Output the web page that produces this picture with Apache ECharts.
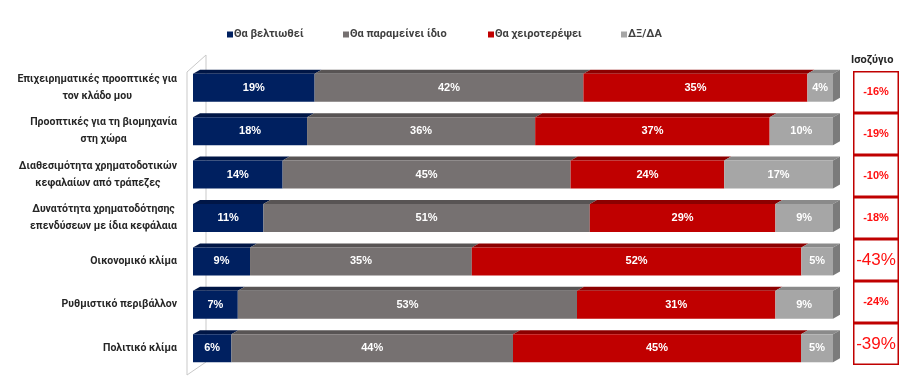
<!DOCTYPE html>
<html>
<head>
<meta charset="utf-8">
<script src="https://cdn.jsdelivr.net/npm/echarts@6/dist/echarts.min.js"></script>
<style>html,body{margin:0;padding:0;background:#fff}#c{width:902px;height:390px}</style>
</head>
<body>
<div id="c"></div>
<script>
const categories = [
  'Επιχειρηματικές προοπτικές για\nτον κλάδο μου',
  'Προοπτικές για τη βιομηχανία\nστη χώρα',
  'Διαθεσιμότητα χρηματοδοτικών\nκεφαλαίων από τράπεζες',
  'Δυνατότητα χρηματοδότησης\nεπενδύσεων με ίδια κεφάλαια',
  'Οικονομικό κλίμα',
  'Ρυθμιστικό περιβάλλον',
  'Πολιτικό κλίμα'
];
const seriesNames = ['Θα βελτιωθεί', 'Θα παραμείνει ίδιο', 'Θα χειροτερέψει', 'ΔΞ/ΔΑ'];
const improve = [19, 18, 14, 11, 9, 7, 6];
const same    = [42, 36, 45, 51, 35, 53, 44];
const worse   = [35, 37, 24, 29, 52, 31, 45];
const dkna    = [4, 10, 17, 9, 5, 9, 5];
const balance = [-16, -19, -10, -18, -43, -24, -39];
const balanceTitle = 'Ισοζύγιο';

const frontColors = ['#002060', '#767171', '#c00000', '#a6a6a6'];
const topColors   = ['#001646', '#585454', '#8c0000', '#8a8a8a'];
const sideColor = '#7b7b7b';
const values = [improve, same, worse, dkna];
const BAR_W = 28, DX = 7, DY = 4;
const FONT = 'Roboto, "Liberation Sans", Arial, sans-serif';
const FONT2 = '"Liberation Sans", Arial, sans-serif';

// 100% stacked: normalise each row to its total (labels keep the raw values)
const totals = categories.map((c, i) => values.reduce((a, arr) => a + arr[i], 0));
const normed = values.map(arr => arr.map((v, i) => v * 100 / totals[i]));

// depth data: [start, end, categoryIndex, segmentIndex]
const depthData = [];
categories.forEach((c, i) => {
  let acc = 0;
  values.forEach((arr, s) => {
    const w = arr[i] * 100 / totals[i];
    depthData.push([acc, acc + w, i, s]);
    acc += w;
  });
});

const barSeries = values.map((arr, s) => ({
  name: seriesNames[s],
  type: 'bar',
  stack: 'all',
  barWidth: BAR_W,
  xAxisIndex: 0, yAxisIndex: 0,
  data: normed[s],
  itemStyle: { color: frontColors[s] },
  label: {
    show: true, position: 'inside', color: '#ffffff',
    fontFamily: FONT2, fontWeight: 'bold', fontSize: 11,
    formatter: p => values[s][p.dataIndex] + '%'
  },
  z: 3
}));

const depthSeries = {
  type: 'custom',
  xAxisIndex: 0, yAxisIndex: 0,
  data: depthData,
  encode: { x: [0, 1], y: 2 },
  z: 2,
  clip: false,
  silent: true,
  renderItem: function (params, api) {
    const start = api.value(0), end = api.value(1), cat = api.value(2), seg = api.value(3);
    const p0 = api.coord([start, cat]);
    const p1 = api.coord([end, cat]);
    const yt = p0[1] - BAR_W / 2, yb = p0[1] + BAR_W / 2;
    const children = [{
      type: 'polygon',
      shape: { points: [[p0[0], yt], [p1[0], yt], [p1[0] + DX, yt - DY], [p0[0] + DX, yt - DY]] },
      style: { fill: topColors[seg] }
    }];
    if (seg === 3) {
      children.push({
        type: 'polygon',
        shape: { points: [[p1[0], yt], [p1[0] + DX, yt - DY], [p1[0] + DX, yb - DY], [p1[0], yb]] },
        style: { fill: sideColor }
      });
    }
    return { type: 'group', children: children };
  }
};

const balanceSeries = {
  type: 'bar',
  xAxisIndex: 1, yAxisIndex: 1,
  barWidth: '100%',
  data: balance.map(() => 1),
  itemStyle: { color: '#ffffff', borderColor: '#c00000', borderWidth: 1.5 },
  label: {
    show: true, position: 'inside', color: '#ff0000', fontFamily: FONT2,
    formatter: p => {
      const v = balance[p.dataIndex];
      return Math.abs(v) >= 30 ? '{b|' + v + '%}' : '{s|' + v + '%}';
    },
    rich: {
      b: { fontSize: 17, color: '#ff1010', fontFamily: FONT2 },
      s: { fontSize: 11, color: '#ff1010', fontFamily: FONT2, fontWeight: 'bold' }
    }
  },
  silent: true
};

const legendLefts = [222, 338, 483, 616];
const legends = seriesNames.map((n, i) => ({
  data: [n], left: legendLefts[i], top: 24,
  icon: 'rect', itemWidth: 6, itemHeight: 6, itemGap: 4,
  selectedMode: false,
  textStyle: { fontFamily: FONT, fontWeight: 'bold', fontSize: 11, color: '#404040', padding: [0, 0, 0, -4] }
}));

const chart = echarts.init(document.getElementById('c'), null, { renderer: 'canvas' });
chart.setOption({
  animation: false,
  backgroundColor: '#ffffff',
  title: {
    text: balanceTitle, left: 846, top: 50,
    textStyle: { fontFamily: FONT, fontWeight: 'bold', fontSize: 11, color: '#262626' }
  },
  legend: legends,
  grid: [
    { left: 193, right: 69, top: 66, bottom: 20, outerBoundsMode: 'none', containLabel: false },
    { left: 853, width: 46, top: 71, bottom: 25, outerBoundsMode: 'none', containLabel: false }
  ],
  xAxis: [
    { type: 'value', min: 0, max: 100, show: false, gridIndex: 0 },
    { type: 'value', min: 0, max: 1, show: false, gridIndex: 1 }
  ],
  yAxis: [
    {
      type: 'category', data: categories, inverse: true, gridIndex: 0,
      axisLine: { show: false }, axisTick: { show: false }, splitLine: { show: false },
      axisLabel: {
        margin: 16, align: 'right',
        formatter: v => v.split('\n').map(l => '{a|' + l + '}').join('\n'),
        rich: { a: { align: 'center', fontFamily: FONT, fontWeight: 'bold', fontSize: 10.5, color: '#262626', lineHeight: 17 } }
      }
    },
    { type: 'category', data: categories, inverse: true, gridIndex: 1, show: false }
  ],
  graphic: [
    { type: 'polyline', z: 0, shape: { points: [[187, 375], [187, 72], [206, 55], [206, 362], [187, 375]] },
      style: { stroke: '#c9c9c9', lineWidth: 1, fill: null } }
  ],
  series: [depthSeries].concat(barSeries).concat([balanceSeries])
});
</script>
</body>
</html>
